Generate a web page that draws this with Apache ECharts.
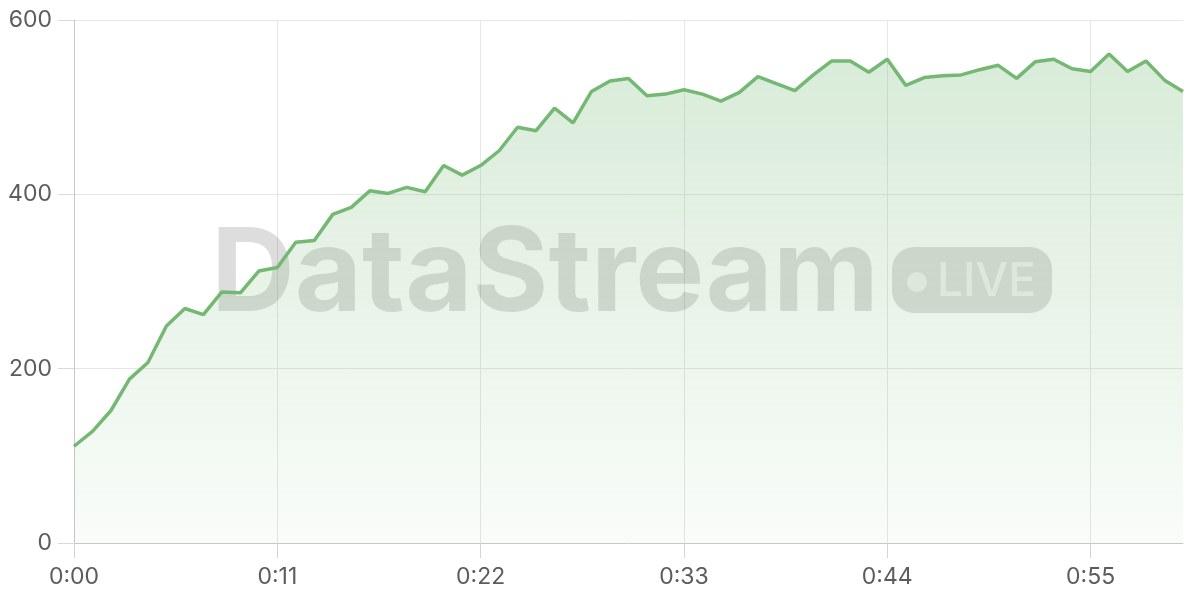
<!DOCTYPE html>
<html>
<head>
    <meta charset="utf-8"/>
    <title>DataStream LIVE</title>
    <script src="https://cdn.jsdelivr.net/npm/echarts@6/dist/echarts.min.js"></script>
    <style>
        html, body { margin: 0; padding: 0; background: #fff; }
        #chart { width: 1200px; height: 600px; }
    </style>
</head>
<body>
<div id="chart"></div>
<script type="text/javascript">
    // time labels, one per second
    var times = [
        '0:00','0:01','0:02','0:03','0:04','0:05','0:06','0:07','0:08','0:09',
        '0:10','0:11','0:12','0:13','0:14','0:15','0:16','0:17','0:18','0:19',
        '0:20','0:21','0:22','0:23','0:24','0:25','0:26','0:27','0:28','0:29',
        '0:30','0:31','0:32','0:33','0:34','0:35','0:36','0:37','0:38','0:39',
        '0:40','0:41','0:42','0:43','0:44','0:45','0:46','0:47','0:48','0:49',
        '0:50','0:51','0:52','0:53','0:54','0:55','0:56','0:57','0:58','0:59',
        '1:00'
    ];
    var values = [
        111, 128, 152, 188, 207, 249, 269, 262, 288, 287,
        312, 316, 345, 347, 377, 385, 404, 401, 408, 403,
        433, 422, 433, 450, 477, 473, 499, 482, 518, 530,
        533, 513, 515, 520, 515, 507, 517, 535, 527, 519,
        537, 553, 553, 540, 555, 525, 534, 536, 537, 543,
        548, 533, 552, 555, 544, 541, 561, 541, 553, 531,
        518
    ];
    var yTicks = [0, 200, 400, 600];

    var chart = echarts.init(document.getElementById('chart'));
    var labelFont = {color: '#5c5c5c', fontSize: 23, fontFamily: 'Inter'};

    chart.setOption({
        animation: false,
        grid: {left: 74, right: 17, top: 20, bottom: 57},
        graphic: [
            {
                type: 'text', z: 1,
                left: 211, top: 218,
                style: {
                    text: 'DataStream',
                    font: '700 116px Inter',
                    fill: 'rgba(0,0,0,0.135)'
                }
            },
            {
                type: 'group', z: 1,
                left: 892, top: 247,
                children: [
                    {
                        type: 'rect',
                        shape: {x: 0, y: 0, width: 160, height: 66, r: 22},
                        style: {fill: 'rgba(0,0,0,0.13)'}
                    },
                    {
                        type: 'circle',
                        shape: {cx: 25, cy: 35, r: 10},
                        style: {fill: 'rgba(255,255,255,0.6)'}
                    },
                    {
                        type: 'text',
                        x: 45, y: 12,
                        style: {
                            text: 'LIVE',
                            font: '500 46px Inter',
                            fill: 'rgba(255,255,255,0.6)'
                        }
                    }
                ]
            }
        ],
        xAxis: {
            type: 'category',
            boundaryGap: false,
            data: times,
            axisLine: {lineStyle: {color: '#c8c8c8', width: 1}},
            axisTick: {show: true, interval: 10, length: 15, lineStyle: {color: '#d4d4d4'}},
            axisLabel: Object.assign({interval: 10, margin: 23}, labelFont),
            splitLine: {show: true, interval: 10, lineStyle: {color: '#e6e6e6'}}
        },
        yAxis: {
            type: 'value',
            min: yTicks[0],
            max: yTicks[yTicks.length - 1],
            interval: 200,
            axisLine: {show: true, lineStyle: {color: '#c8c8c8', width: 1}},
            axisTick: {show: true, length: 16, lineStyle: {color: '#dadada'}},
            axisLabel: Object.assign({margin: 22}, labelFont),
            splitLine: {show: true, lineStyle: {color: '#e6e6e6'}}
        },
        series: [
            {
                type: 'line',
                data: values,
                symbol: 'none',
                z: 3,
                lineStyle: {color: '#74b874', width: 3.5},
                itemStyle: {color: '#74b874'},
                areaStyle: {
                    color: new echarts.graphic.LinearGradient(0, 0, 0, 1, [
                        {offset: 0, color: 'rgba(116,184,116,0.4)'},
                        {offset: 1, color: 'rgba(116,184,116,0.06)'}
                    ])
                }
            }
        ]
    });
</script>
</body>
</html>
